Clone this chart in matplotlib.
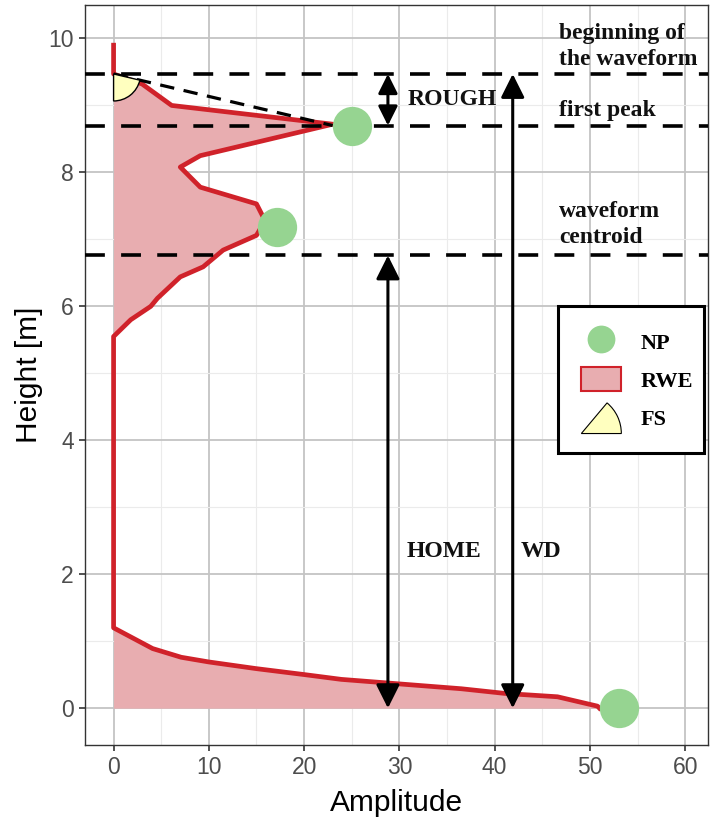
import numpy as np
import matplotlib
matplotlib.use("Agg")
from matplotlib import pyplot as plt
from matplotlib.patches import Wedge, Patch, Rectangle
from matplotlib.lines import Line2D
from matplotlib.legend_handler import HandlerPatch
from matplotlib.transforms import ScaledTranslation

# Waveform (return waveform energy), top to bottom
height = [9.9, 9.47, 9.32, 9.0, 8.72, 8.25, 8.08, 7.78, 7.53, 7.28, 7.06, 6.84,
          6.59, 6.44, 6.12, 6.0, 5.8, 5.55, 1.2, 0.89, 0.76, 0.69, 0.59, 0.50,
          0.43, 0.36, 0.29, 0.22, 0.17, 0.03, 0.0]
amplitude = [0, 0, 3.0, 6.1, 23.0, 9.1, 7.0, 9.1, 15.0, 15.9, 15.0, 11.5,
             9.4, 7.0, 4.6, 3.9, 1.8, 0, 0, 4.1, 7.1, 10.0, 15.0, 20.1,
             23.9, 30.2, 36.5, 41.1, 46.6, 50.8, 51.0]

# Fitted peaks (NP)
peak_amp = [25.0, 17.2, 53.1]
peak_height = [8.70, 7.19, 0.0]

# Reference levels
h_begin = 9.47
h_first_peak = 8.70
h_centroid = 6.76
first_peak_amp = 23.0

level_labels = ["beginning of\nthe waveform", "first peak", "waveform\ncentroid"]
level_label_y = [9.88, 8.92, 7.22]

x_rough, x_home, x_wd = 28.8, 28.8, 41.9

RED = "#D0222A"
FILL = "#E8ADB0"
GREEN = "#96D491"
YELLOW = "#FFFFBF"
SERIF = "Liberation Serif"
SANS = "Liberation Sans"

fig = plt.figure(figsize=(7.10, 8.18), dpi=100)
ax = fig.add_axes([85 / 710, 73 / 818, 623 / 710, 740 / 818])
ax.set_xlim(-3, 62.4)
ax.set_ylim(-0.55, 10.5)

# grid
ax.set_xticks(np.arange(0, 61, 10))
ax.set_yticks(np.arange(0, 11, 2))
ax.set_xticks(np.arange(5, 61, 10), minor=True)
ax.set_yticks(np.arange(1, 11, 2), minor=True)
ax.grid(which="major", color="#C4C4C4", lw=1.3, zorder=0)
ax.grid(which="minor", color="#EBEBEB", lw=0.8, zorder=0)
ax.set_axisbelow(True)
ax.tick_params(which="minor", length=0)
ax.tick_params(which="major", length=4, width=1.2, color="#333333",
               labelsize=16.5, labelcolor="#4D4D4D", pad=4)
for lab in ax.get_xticklabels() + ax.get_yticklabels():
    lab.set_family(SANS)
for s in ax.spines.values():
    s.set_color("#333333")
    s.set_linewidth(1.0)

ax.set_xlabel("Amplitude", fontsize=21.5, family=SANS, labelpad=7)
ax.set_ylabel("Height [m]", fontsize=21.5, family=SANS, labelpad=4)

# waveform
ax.fill_betweenx(height, 0, amplitude, color=FILL, lw=0, zorder=2)
ax.plot(amplitude, height, color=RED, lw=3.4, solid_joinstyle="round", zorder=3)

# dashed levels
for h in [h_begin, h_first_peak, h_centroid]:
    ax.axhline(h, color="black", lw=2.6, ls=(0, (5.5, 4.5)), zorder=4)

# dashed line from beginning to first peak
ax.plot([0, first_peak_amp], [h_begin, h_first_peak], color="black", lw=2.3,
        ls=(0, (4.5, 3)), zorder=4)

# front slope wedge (FS)
p0 = ax.transData.transform((0, h_begin))
p1 = ax.transData.transform((first_peak_amp, h_first_peak))
ang = np.degrees(np.arctan2(p1[1] - p0[1], p1[0] - p0[0]))
wtrans = fig.dpi_scale_trans + ScaledTranslation(0, h_begin, ax.transData)
ax.add_patch(Wedge((0, 0), 0.27, -90, ang, facecolor=YELLOW, edgecolor="black",
                   lw=1.0, transform=wtrans, zorder=5))

# peaks
ax.scatter(peak_amp, peak_height, s=800, color=GREEN, lw=0, zorder=6,
           clip_on=False)

# arrows
aprops = dict(arrowstyle="<|-|>,head_length=0.9,head_width=0.45",
              mutation_scale=16, lw=2.2, color="black", shrinkA=0, shrinkB=0)
small = dict(aprops, mutation_scale=13)
ax.annotate("", xy=(x_rough, h_first_peak), xytext=(x_rough, h_begin),
            arrowprops=small, zorder=7)
ax.annotate("", xy=(x_home, 0), xytext=(x_home, h_centroid),
            arrowprops=aprops, zorder=7)
ax.annotate("", xy=(x_wd, 0), xytext=(x_wd, h_begin),
            arrowprops=aprops, zorder=7)

tkw = dict(family=SERIF, fontsize=17, fontweight="bold", color="#111111", zorder=8)
ax.text(30.9, (h_begin + h_first_peak) / 2, "ROUGH", va="center", ha="left", **tkw)
ax.text(30.8, 2.34, "HOME", va="center", ha="left", **tkw)
ax.text(42.7, 2.34, "WD", va="center", ha="left", **tkw)
for lab, y in zip(level_labels, level_label_y):
    ax.text(46.8, y, lab, va="center", ha="left", linespacing=1.27, **tkw)


# legend
def make_fs(legend, orig_handle, xdescent, ydescent, width, height, fontsize):
    return Wedge((-xdescent, -ydescent - 0.2 * height), width, 0, 50)


handles = [
    Line2D([], [], marker="o", ls="none", markersize=20, color=GREEN, mew=0),
    Patch(facecolor=FILL, edgecolor=RED, lw=1.5),
    Patch(facecolor=YELLOW, edgecolor="black", lw=0.8),
]
leg = ax.legend(handles, ["NP", "RWE", "FS"], loc="upper left",
                bbox_to_anchor=(558 / 710, 1 - 306 / 818),
                bbox_transform=fig.transFigure, frameon=False,
                borderpad=1.05, labelspacing=0.62,
                handlelength=1.8, handleheight=1.25, handletextpad=0.85,
                borderaxespad=0,
                handler_map={handles[2]: HandlerPatch(patch_func=make_fs)},
                prop=dict(family=SERIF, size=16, weight="bold"))
leg.set_zorder(10)
ax.add_patch(Rectangle((558 / 710, 1 - 453 / 818), 146 / 710, 147 / 818,
                       transform=fig.transFigure, facecolor="white",
                       edgecolor="black", lw=2.2, zorder=9, clip_on=False))

fig.savefig("out.png", dpi=100)
